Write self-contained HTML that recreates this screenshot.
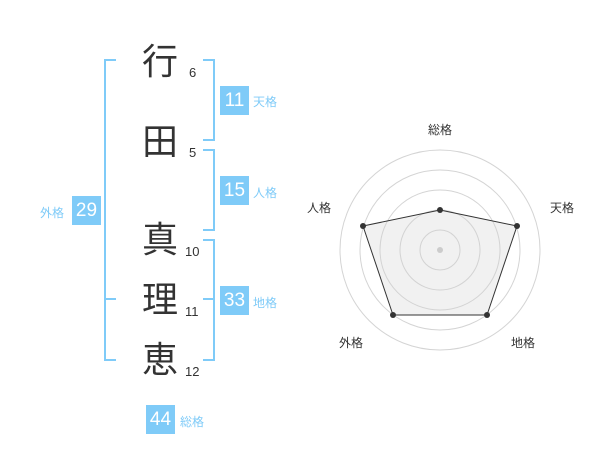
<!DOCTYPE html>
<html><head><meta charset="utf-8"><style>
body{margin:0;background:#fff;width:600px;height:470px;overflow:hidden;position:relative;font-family:"Liberation Sans","Noto Sans CJK JP",sans-serif}
.k{position:absolute;left:138px;width:44px;text-align:center;font-size:36px;line-height:44px;color:#333}
.n{position:absolute;font-size:13px;color:#333;line-height:14px}
.b{position:absolute;width:29px;height:29px;background:#7fcbf8;color:#fff;font-size:19px;line-height:29px;text-align:center}
.l{position:absolute;font-size:12px;color:#7fcbf8;line-height:14px}
.r{position:absolute;font-size:12px;color:#333;line-height:14px}
</style></head><body>
<svg width="600" height="470" style="position:absolute;left:0;top:0">
<g stroke="#7fcbf8" stroke-width="2" fill="none">
<path d="M116 60H105V360H116M105 299H116"/>
<path d="M203 60H214V140H203"/>
<path d="M203 150H214V230H203"/>
<path d="M203 240H214V360H203M203 299H214"/>
</g>
<g stroke="#d4d4d4" fill="none" stroke-width="1">
<circle cx="440" cy="250" r="20"/><circle cx="440" cy="250" r="40"/><circle cx="440" cy="250" r="60"/><circle cx="440" cy="250" r="80"/><circle cx="440" cy="250" r="100"/>
</g>
<polygon points="440,210 517,226 487,315 393,315 363,226" fill="rgba(210,210,210,0.3)" stroke="#333" stroke-width="1"/>
<circle cx="440" cy="250" r="3" fill="#ccc"/>
<g fill="#333"><circle cx="440" cy="210" r="3"/><circle cx="517" cy="226" r="3"/><circle cx="487" cy="315" r="3"/><circle cx="393" cy="315" r="3"/><circle cx="363" cy="226" r="3"/></g>
</svg>
<div class="k" style="top:40px">行</div>
<div class="k" style="top:120px">田</div>
<div class="k" style="top:218px">真</div>
<div class="k" style="top:278px">理</div>
<div class="k" style="top:338px">恵</div>
<div class="n" style="left:189px;top:66px">6</div>
<div class="n" style="left:189px;top:146px">5</div>
<div class="n" style="left:185px;top:245px">10</div>
<div class="n" style="left:185px;top:305px">11</div>
<div class="n" style="left:185px;top:365px">12</div>
<div class="b" style="left:220px;top:86px">11</div><div class="l" style="left:253px;top:95px">天格</div>
<div class="b" style="left:220px;top:176px">15</div><div class="l" style="left:253px;top:186px">人格</div>
<div class="b" style="left:220px;top:286px">33</div><div class="l" style="left:253px;top:296px">地格</div>
<div class="b" style="left:72px;top:196px">29</div><div class="l" style="left:40px;top:206px">外格</div>
<div class="b" style="left:146px;top:405px">44</div><div class="l" style="left:180px;top:415px">総格</div>
<div class="r" style="left:428px;top:123px">総格</div>
<div class="r" style="left:550px;top:201px">天格</div>
<div class="r" style="left:307px;top:201px">人格</div>
<div class="r" style="left:339px;top:336px">外格</div>
<div class="r" style="left:511px;top:336px">地格</div>
</body></html>
